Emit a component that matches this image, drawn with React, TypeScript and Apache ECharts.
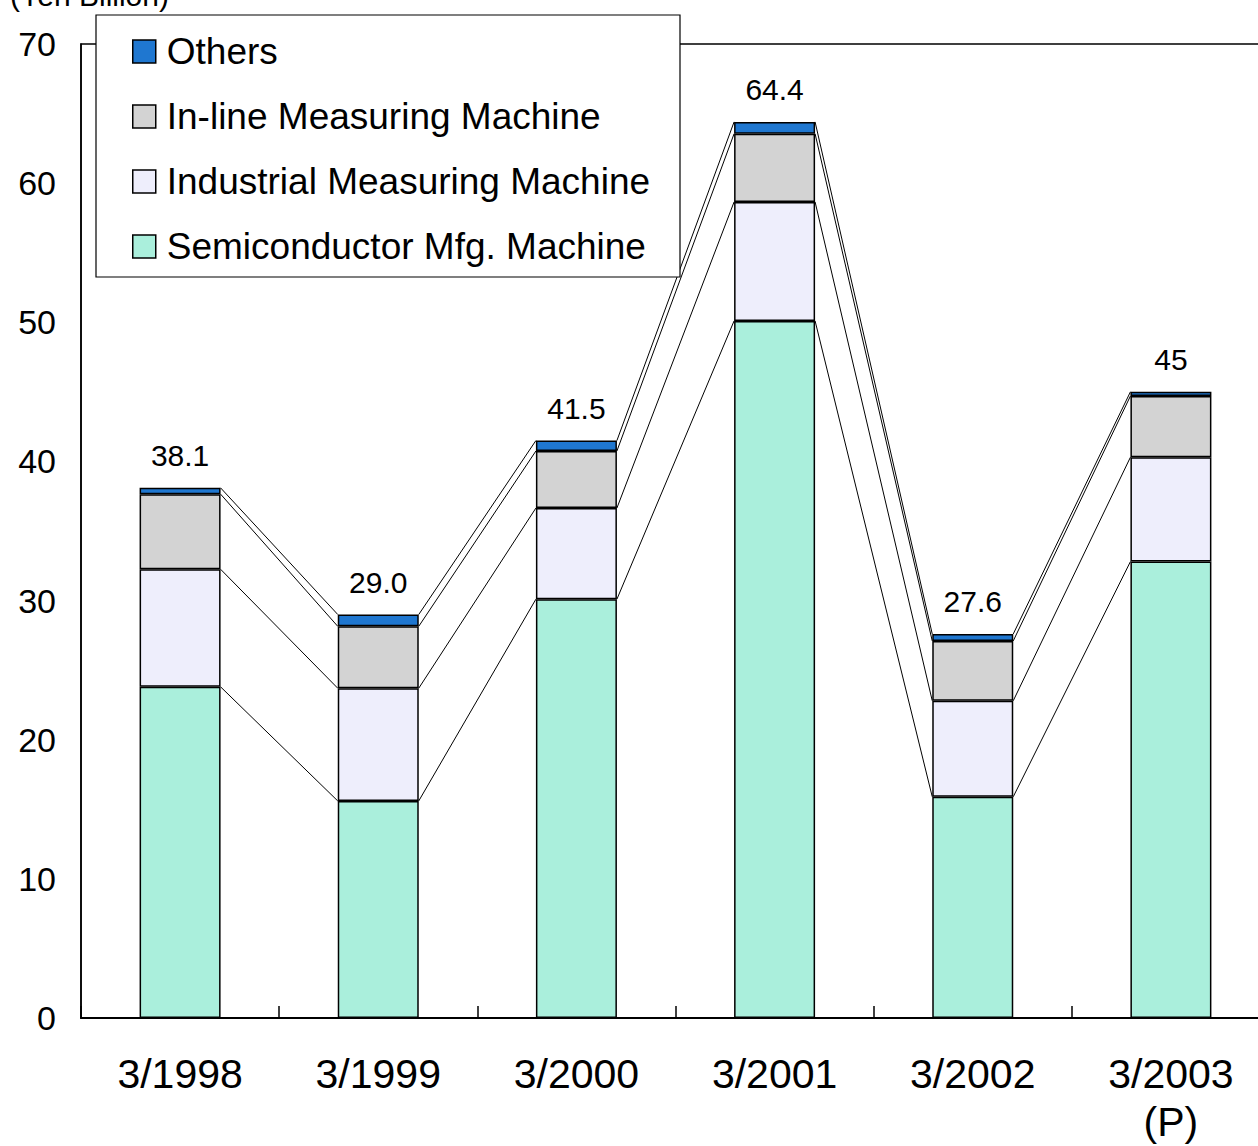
import React, { useEffect, useRef } from "react";
import * as echarts from "echarts";

const categories = ["3/1998", "3/1999", "3/2000", "3/2001", "3/2002", "3/2003\n(P)"];
const semiconductor = [23.8, 15.6, 30.1, 50.1, 15.9, 32.8];
const industrial = [8.45, 8.1, 6.55, 8.55, 6.9, 7.5];
const inline = [5.4, 4.45, 4.1, 4.9, 4.3, 4.4];
const others = [0.45, 0.85, 0.75, 0.85, 0.5, 0.3];
const totalLabels = ["38.1", "29.0", "41.5", "64.4", "27.6", "45"];
const yTicks = { min: 0, max: 70, interval: 10 };

const seriesNames = [
  "Semiconductor Mfg. Machine",
  "Industrial Measuring Machine",
  "In-line Measuring Machine",
  "Others",
];
const seriesColors = ["#AAEFDC", "#EEEEFC", "#D3D3D3", "#1F77D0"];

const FONT = "'Liberation Sans', Arial, sans-serif";
const BAR_W = 81;

export default function App() {
  const ref = useRef<HTMLDivElement>(null);
  useEffect(() => {
    if (!ref.current) return;
    const chart = echarts.init(ref.current, undefined, { renderer: "svg" });
    const stacks = [semiconductor, industrial, inline, others];
    const cum: number[][] = stacks.map(() => []);
    for (let i = 0; i < categories.length; i++) {
      let s = 0;
      stacks.forEach((arr, k) => {
        s += arr[i];
        cum[k][i] = s;
      });
    }
    const lineData: number[][] = [];
    for (let i = 0; i < categories.length - 1; i++) {
      for (let k = 0; k < stacks.length; k++) {
        lineData.push([i, cum[k][i], cum[k][i + 1]]);
      }
    }
    const barSeries = stacks.map((arr, k) => ({
      type: "bar",
      name: seriesNames[k],
      stack: "total",
      data: arr,
      barWidth: BAR_W,
      z: 3,
      itemStyle: { color: seriesColors[k], borderColor: "#000", borderWidth: 1.5 },
      label:
        k === stacks.length - 1
          ? {
              show: true,
              position: "top",
              distance: 17,
              formatter: (p: any) => totalLabels[p.dataIndex],
              fontSize: 30,
              fontFamily: FONT,
              color: "#000",
            }
          : { show: false },
    }));
    chart.setOption({
      animation: false,
      backgroundColor: "#fff",
      textStyle: { fontFamily: FONT },
      grid: {
        left: 81,
        top: 44,
        width: 1189,
        height: 976,
        show: true,
        borderColor: "#000",
        borderWidth: 1.5,
        backgroundColor: "transparent",
      },
      legend: {
        orient: "vertical",
        left: 132,
        top: 33,
        padding: 0,
        itemGap: 28,
        itemWidth: 23,
        itemHeight: 23,
        icon: "rect",
        z: 20,
        data: [...seriesNames].reverse(),
        itemStyle: { borderColor: "#000", borderWidth: 1.5 },
        textStyle: {
          fontSize: 37,
          lineHeight: 36,
          color: "#000",
          fontFamily: FONT,
          padding: [0, 0, 0, 6],
        },
      },
      graphic: [
        {
          type: "rect",
          z: 15,
          shape: { x: 96, y: 15, width: 584, height: 262 },
          style: { fill: "#fff", stroke: "#000", lineWidth: 1.2 },
        },
        {
          type: "text",
          z: 15,
          x: 10,
          y: 10,
          style: {
            text: "(Yen Billion)",
            fontSize: 30,
            fontFamily: FONT,
            fill: "#000",
            verticalAlign: "bottom",
          },
        },
      ],
      xAxis: {
        type: "category",
        data: categories,
        boundaryGap: true,
        axisLine: { lineStyle: { color: "#000", width: 2 } },
        axisTick: { show: true, inside: true, length: 12, lineStyle: { color: "#000", width: 1.5 } },
        axisLabel: {
          fontSize: 41,
          lineHeight: 48,
          margin: 32,
          color: "#000",
          fontFamily: FONT,
        },
      },
      yAxis: {
        type: "value",
        min: yTicks.min,
        max: yTicks.max,
        interval: yTicks.interval,
        axisLine: { show: true, lineStyle: { color: "#000", width: 1.5 } },
        axisTick: { show: false },
        splitLine: { show: false },
        axisLabel: { fontSize: 34, margin: 25, color: "#000", fontFamily: FONT },
      },
      series: [
        {
          type: "custom",
          name: "series-lines",
          z: 1,
          silent: true,
          encode: { x: 0, y: [1, 2] },
          data: lineData,
          renderItem: (params: any, api: any) => {
            const i = api.value(0);
            const a = api.coord([i, api.value(1)]);
            const b = api.coord([i + 1, api.value(2)]);
            const h = BAR_W / 2;
            return {
              type: "line",
              shape: { x1: a[0] + h, y1: a[1], x2: b[0] - h, y2: b[1] },
              style: { stroke: "#000", lineWidth: 1 },
            };
          },
        },
        ...barSeries,
      ],
    });
    return () => chart.dispose();
  }, []);
  return (
    <div
      style={{
        position: "fixed",
        left: 0,
        top: 0,
        width: 1258,
        height: 1146,
        overflow: "hidden",
        background: "#fff",
      }}
    >
      <div ref={ref} style={{ width: 1290, height: 1146 }} />
    </div>
  );
}
